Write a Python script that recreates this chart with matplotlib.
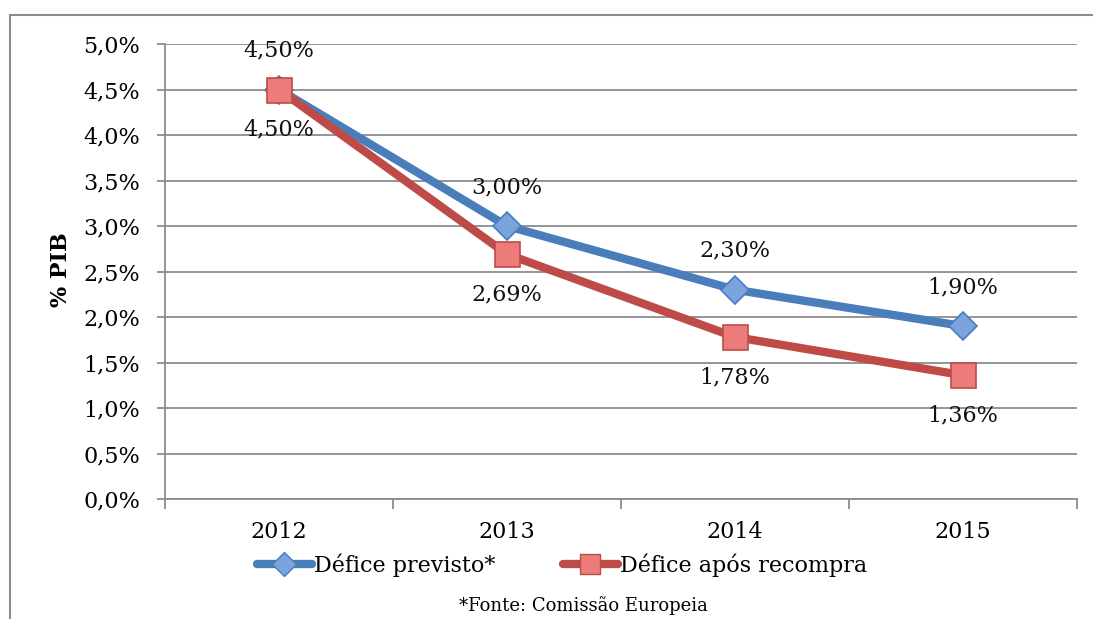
import matplotlib
matplotlib.use("Agg")
import matplotlib.pyplot as plt
from matplotlib.patches import Rectangle
from matplotlib.lines import Line2D

years = ["2012", "2013", "2014", "2015"]
previsto = [4.50, 3.00, 2.30, 1.90]
recompra = [4.50, 2.69, 1.78, 1.36]
prev_labels = ["4,50%", "3,00%", "2,30%", "1,90%"]
rec_labels = ["4,50%", "2,69%", "1,78%", "1,36%"]
yticks = [0.0, 0.5, 1.0, 1.5, 2.0, 2.5, 3.0, 3.5, 4.0, 4.5, 5.0]
ytick_labels = ["0,0%", "0,5%", "1,0%", "1,5%", "2,0%", "2,5%", "3,0%", "3,5%", "4,0%", "4,5%", "5,0%"]

plt.rcParams['font.family'] = ['DejaVu Serif', 'Liberation Serif']
FS = 16

W, H = 1093, 619
fig = plt.figure(figsize=(W / 100, H / 100), dpi=100)
ax = fig.add_axes([165 / W, 1 - 499 / H, (1077 - 165) / W, (499 - 44) / H])

# outer frame (top and left visible)
fig.patches.append(Rectangle((10 / W, -0.1), 1.2, 1 - 15 / H + 0.1, transform=fig.transFigure,
                             fill=False, edgecolor="#8c8c8c", linewidth=1.5, zorder=0))

x = list(range(len(years)))
blue = "#4A7EBB"
red = "#BE4B48"
ax.plot(x, previsto, color=blue, linewidth=6, marker="D", markersize=14,
        markerfacecolor="#7BA3DD", markeredgecolor="#4A7EBB", markeredgewidth=1.2,
        solid_capstyle="round", zorder=3, label="Défice previsto*")
ax.plot(x, recompra, color=red, linewidth=6, marker="s", markersize=18,
        markerfacecolor="#EC7B79", markeredgecolor="#BE4B48", markeredgewidth=1.2,
        solid_capstyle="round", zorder=4, label="Défice após recompra")

for i in x:
    ax.annotate(prev_labels[i], (i, previsto[i]), xytext=(0, 28), textcoords="offset points",
                ha="center", va="center", fontsize=FS, color="#111111", zorder=6)
    ax.annotate(rec_labels[i], (i, recompra[i]), xytext=(0, -29), textcoords="offset points",
                ha="center", va="center", fontsize=FS, color="#111111", zorder=6)

ax.set_xlim(-0.5, len(years) - 0.5)
ax.set_ylim(0, 5.0)
ax.set_yticks(yticks)
ax.set_yticklabels(ytick_labels, fontsize=FS)
ax.set_xticks(x)
ax.set_xticklabels(years, fontsize=FS)
ax.set_xticks([i - 0.5 for i in range(len(years) + 1)], minor=True)
ax.tick_params(axis="x", which="major", length=0, pad=16)
ax.tick_params(axis="x", which="minor", length=7, color="#8c8c8c", width=1.3)
ax.tick_params(axis="y", length=6, color="#8c8c8c", width=1.3, pad=12)

ax.grid(axis="y", color="#8c8c8c", linewidth=1.3)
ax.set_axisbelow(True)
for s in ["top", "right"]:
    ax.spines[s].set_visible(False)
ax.spines["left"].set_color("#8c8c8c")
ax.spines["left"].set_linewidth(1.3)
ax.spines["bottom"].set_color("#8c8c8c")
ax.spines["bottom"].set_linewidth(1.3)

ax.set_ylabel("% PIB", fontsize=FS, fontweight="bold")
ax.yaxis.set_label_coords(72 / W, 1 - 270 / H, transform=fig.transFigure)

handles = [
    Line2D([], [], color=blue, linewidth=6, marker="D", markersize=12,
           markerfacecolor="#7BA3DD", markeredgecolor=blue, solid_capstyle="round"),
    Line2D([], [], color=red, linewidth=6, marker="s", markersize=15,
           markerfacecolor="#EC7B79", markeredgecolor=red, solid_capstyle="round"),
]
fig.legend(handles, ["Défice previsto*", "Défice após recompra"], loc="center",
           bbox_to_anchor=(562 / W, 1 - 565 / H), ncol=2, frameon=False, fontsize=FS,
           handlelength=2.5, handletextpad=0.1, columnspacing=3.0)

fig.text(583 / W, 1 - 606 / H, "*Fonte: Comissão Europeia", ha="center", va="center", fontsize=13)

fig.savefig("out.png", dpi=100)
